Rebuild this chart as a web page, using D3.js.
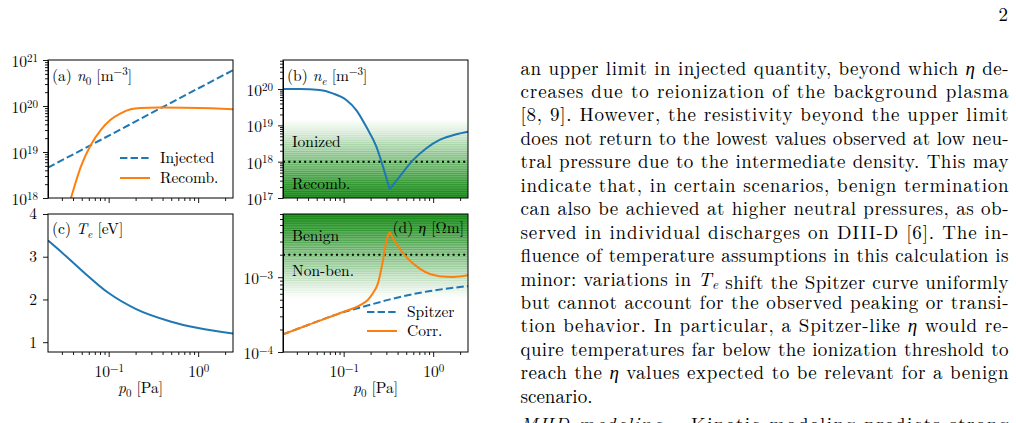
<!DOCTYPE html>
<html>
<head>
<meta charset="utf-8">
<script src="https://cdn.jsdelivr.net/npm/d3@7"></script>
<style>
  body { margin: 0; background: #fff; }
  svg { display: block; }
</style>
</head>
<body>
<svg id="fig" width="1016" height="423"></svg>
<script>
// shared x axis: neutral pressure p0 [Pa]
const pDomain = [0.021, 2.45];

// (a) neutral density n0 [m^-3]
const injectedP = [0.021, 0.064, 0.378, 2.45];
const injectedN = [4.6e18, 1.43e19, 8.9e19, 6.0e20];
const recombP = [0.035, 0.0379, 0.0489, 0.0631, 0.0815, 0.105, 0.136, 0.176, 0.227, 0.36, 0.7, 1.4, 2.45];
const recombN = [6e17, 1.0e18, 4.8e18, 1.42e19, 3.0e19, 5.0e19, 6.9e19, 8.5e19, 9.1e19, 9.3e19, 9.2e19, 8.9e19, 8.5e19];

// (b) electron density ne [m^-3]
const neP = [0.021, 0.0322, 0.054, 0.0754, 0.107, 0.139, 0.179, 0.232, 0.275, 0.327, 0.422, 0.595, 0.84, 1.18, 1.82, 2.45];
const neN = [1.0e20, 1.0e20, 9.4e19, 7.6e19, 5.0e19, 2.6e19, 9.1e18, 2.6e18, 7.3e17, 1.74e17, 3.9e17, 1.1e18, 2.35e18, 3.96e18, 5.7e18, 6.7e18];
const neThreshold = 1e18;
const ionShade = [1e17, 1.6e19];

// (c) electron temperature Te [eV]
const teP = [0.021, 0.03, 0.05, 0.1, 0.2, 0.5, 1.0, 2.45];
const teV = [3.38, 3.1, 2.68, 2.15, 1.78, 1.48, 1.33, 1.2];

// (d) resistivity eta [Ohm m]
const spitzerP = [0.021, 0.04, 0.1, 0.18, 0.33, 0.77, 2.45];
const spitzerE = [1.72e-4, 2.3e-4, 3.42e-4, 4.15e-4, 5.05e-4, 6.3e-4, 7.6e-4];
const corrP = [0.021, 0.04, 0.1, 0.151, 0.187, 0.212, 0.241, 0.275, 0.3, 0.327, 0.388, 0.5, 0.707, 1.18, 1.66, 2.45];
const corrE = [1.72e-4, 2.3e-4, 3.45e-4, 4.2e-4, 5.0e-4, 6.1e-4, 8.2e-4, 1.68e-3, 3.1e-3, 4.0e-3, 2.8e-3, 1.87e-3, 1.3e-3, 1.03e-3, 1.01e-3, 1.06e-3];
const etaThreshold = 2e-3;
const benignShade = [5e-4, 7e-3];

// body text of the page
const bodyLines = [
  'an upper limit in injected quantity, beyond which η de-',
  'creases due to reionization of the background plasma',
  '[8, 9]. However, the resistivity beyond the upper limit',
  'does not return to the lowest values observed at low neu-',
  'tral pressure due to the intermediate density. This may',
  'indicate that, in certain scenarios, benign termination',
  'can also be achieved at higher neutral pressures, as ob-',
  'served in individual discharges on DIII-D [6]. The in-',
  'fluence of temperature assumptions in this calculation is',
  'minor: variations in T_e shift the Spitzer curve uniformly',
  'but cannot account for the observed peaking or transi-',
  'tion behavior. In particular, a Spitzer-like η would re-',
  'quire temperatures far below the ionization threshold to',
  'reach the η values expected to be relevant for a benign',
  'scenario.'
];

const FONT = '"Latin Modern Roman", "Liberation Serif", serif';
const BLUE = '#1f77b4', ORANGE = '#ff7f0e', GREEN = '#008000';
const W = 185, H = 138, FS = 15.5, SFS = 11;
const svg = d3.select('#fig').style('font-family', FONT);

function logTicks(domain) {
  const major = [], minor = [];
  for (let e = Math.floor(Math.log10(domain[0])); e <= Math.ceil(Math.log10(domain[1])); e++) {
    for (let k = 1; k < 10; k++) {
      const v = k * Math.pow(10, e);
      if (v < domain[0] * 0.999 || v > domain[1] * 1.001) continue;
      (k === 1 ? major : minor).push(v);
    }
  }
  return { major, minor };
}

// "10^e" labels with a raised exponent
function sciLabel(sel) {
  sel.each(function (d) {
    const e = Math.round(Math.log10(d));
    const t = d3.select(this).text(null);
    t.append('tspan').text('10');
    t.append('tspan').attr('dy', '-0.5em').attr('font-size', SFS)
      .text(e < 0 ? '\u2212' + (-e) : String(e));
  });
}

// small rich text: parts [{t, it, sub, sup}]
function richText(g, x, y, parts, anchor) {
  const t = g.append('text').attr('x', x).attr('y', y)
    .attr('font-size', FS).attr('text-anchor', anchor || 'start');
  let shift = 0;
  parts.forEach(p => {
    const target = p.sub ? 4 : p.sup ? -6 : 0;
    const s = t.append('tspan').text(p.t).attr('dy', target - shift);
    shift = target;
    if (p.it) s.attr('font-style', 'italic');
    if (p.sub || p.sup) s.attr('font-size', SFS);
  });
  return t;
}

function panel(left, top, y, name) {
  const g = svg.append('g').attr('transform', `translate(${left},${top})`);
  const x = d3.scaleLog().domain(pDomain).range([0, W]);
  y.range([H, 0]);
  g.append('clipPath').attr('id', 'clip-' + name)
    .append('rect').attr('width', W).attr('height', H);
  const plot = g.append('g').attr('clip-path', `url(#clip-${name})`);
  return { g, x, y, plot };
}

function axes(P, xLabels, yLog) {
  const xt = logTicks(pDomain);
  const gxm = P.g.append('g').attr('transform', `translate(0,${H})`)
    .call(d3.axisBottom(P.x).tickValues(xt.minor).tickSize(3).tickSizeOuter(0).tickFormat(() => ''));
  const gx = P.g.append('g').attr('transform', `translate(0,${H})`)
    .call(d3.axisBottom(P.x).tickValues(xt.major).tickSize(5).tickPadding(9).tickSizeOuter(0).tickFormat(() => ''));
  if (xLabels) gx.selectAll('.tick text').call(sciLabel);
  let gy;
  if (yLog) {
    const yt = logTicks(P.y.domain());
    P.g.append('g').call(d3.axisLeft(P.y).tickValues(yt.minor).tickSize(3).tickSizeOuter(0).tickFormat(() => ''));
    gy = P.g.append('g').call(d3.axisLeft(P.y).tickValues(yt.major).tickSize(5).tickPadding(5).tickSizeOuter(0));
    gy.selectAll('.tick text').call(sciLabel).attr('dy', '0.42em');
  } else {
    gy = P.g.append('g').call(d3.axisLeft(P.y).tickValues([1, 2, 3, 4]).tickSize(5).tickPadding(6).tickSizeOuter(0).tickFormat(d3.format('d')));
  }
  [gxm, gx, gy].forEach(a => {
    a.attr('font-family', null).attr('font-size', FS);
    a.select('.domain').remove();
  });
  P.g.selectAll('.tick line').attr('stroke-width', 0.9);
  P.g.append('rect').attr('width', W).attr('height', H)
    .attr('fill', 'none').attr('stroke', '#000').attr('stroke-width', 1);
  if (xLabels) {
    richText(P.g, W / 2, 393 - 214, [{ t: 'p', it: true }, { t: '0', sub: true }, { t: ' [Pa]' }], 'middle');
  }
}

// line through sample points; optional split at a cusp index
function curve(P, xs, ys, color, dash, cusp) {
  const pts = xs.map((v, i) => [P.x(v), P.y(ys[i])]);
  const pieces = cusp == null ? [pts] : [pts.slice(0, cusp + 1), pts.slice(cusp)];
  const line = d3.line().curve(d3.curveMonotoneX);
  pieces.forEach(pc => {
    P.plot.append('path').attr('d', line(pc)).attr('fill', 'none')
      .attr('stroke', color).attr('stroke-width', 2)
      .attr('stroke-dasharray', dash ? '7.4,3.2' : null);
  });
}

// faded green band: dark at `from`, vanishing at `to` (log-space)
function shade(P, from, to) {
  const n = 36, a = Math.log10(from), b = Math.log10(to);
  for (let i = 0; i < n; i++) {
    const t0 = i / n, t1 = (i + 1) / n;
    const y0 = P.y(Math.pow(10, a + (b - a) * t0)), y1 = P.y(Math.pow(10, a + (b - a) * t1));
    const op = 0.85 * Math.pow(1 - (t0 + t1) / 2, 1.2);
    P.plot.append('rect').attr('x', 0).attr('width', W)
      .attr('y', Math.min(y0, y1) - 0.3).attr('height', Math.abs(y1 - y0) + 0.6)
      .attr('fill', GREEN).attr('fill-opacity', op);
  }
}

function hline(P, v) {
  P.plot.append('line').attr('x1', 0).attr('x2', W).attr('y1', P.y(v)).attr('y2', P.y(v))
    .attr('stroke', '#000').attr('stroke-width', 2).attr('stroke-dasharray', '2,3.3');
}

function legendRow(P, x, y, color, dash, label) {
  P.g.append('line').attr('x1', x).attr('x2', x + 30).attr('y1', y).attr('y2', y)
    .attr('stroke', color).attr('stroke-width', 2).attr('stroke-dasharray', dash ? '7.4,3.2' : null);
  P.g.append('text').attr('x', x + 40).attr('y', y + 5).attr('font-size', FS).text(label);
}

// (a)
const A = panel(48, 60, d3.scaleLog().domain([1e18, 1e21]), 'a');
curve(A, injectedP, injectedN, BLUE, true);
curve(A, recombP, recombN, ORANGE, false);
axes(A, false, true);
richText(A.g, 4, 21, [{ t: '(a) ' }, { t: 'n', it: true }, { t: '0', sub: true }, { t: ' [m' }, { t: '\u22123', sup: true }, { t: ']' }]);
legendRow(A, 72, 98, BLUE, true, 'Injected');
legendRow(A, 72, 118, ORANGE, false, 'Recomb.');

// (b)
const B = panel(283, 60, d3.scaleLog().domain([1e17, 6.3e20]), 'b');
shade(B, ionShade[0], ionShade[1]);
hline(B, neThreshold);
curve(B, neP, neN, BLUE, false, neN.indexOf(d3.min(neN)));
axes(B, false, true);
richText(B.g, 4, 21, [{ t: '(b) ' }, { t: 'n', it: true }, { t: 'e', sub: true, it: true }, { t: ' [m' }, { t: '\u22123', sup: true }, { t: ']' }]);
B.g.append('text').attr('x', 9).attr('y', 87).attr('font-size', FS).text('Ionized');
B.g.append('text').attr('x', 9).attr('y', 128.5).attr('font-size', FS).text('Recomb.');

// (c)
const C = panel(48, 214, d3.scaleLinear().domain([0.77, 4]), 'c');
curve(C, teP, teV, BLUE, false);
axes(C, true, false);
richText(C.g, 4, 19.5, [{ t: '(c) ' }, { t: 'T', it: true }, { t: 'e', sub: true, it: true }, { t: ' [eV]' }]);

// (d)
const D = panel(283, 214, d3.scaleLog().domain([1e-4, 7e-3]), 'd');
shade(D, benignShade[1], benignShade[0]);
hline(D, etaThreshold);
curve(D, spitzerP, spitzerE, BLUE, true);
curve(D, corrP, corrE, ORANGE, false, corrE.indexOf(d3.max(corrE)));
axes(D, true, true);
richText(D.g, W - 4, 18.5, [{ t: '(d) ' }, { t: 'η', it: true }, { t: ' [Ωm]' }], 'end');
D.g.append('text').attr('x', 9).attr('y', 26.5).attr('font-size', FS).text('Benign');
D.g.append('text').attr('x', 9).attr('y', 61.5).attr('font-size', FS).text('Non-ben.');
legendRow(D, 84, 98, BLUE, true, 'Spitzer');
legendRow(D, 84, 117, ORANGE, false, 'Corr.');

// page text
const textLeft = 520.5, textWidth = 488, base = 74.5, lead = 23.45, BFS = 19;
function bodyLine(str, y, justify) {
  const t = svg.append('text').attr('x', textLeft).attr('y', y).attr('font-size', BFS);
  str.split(/(η|T_e)/).forEach(seg => {
    if (seg === 'η') t.append('tspan').attr('font-style', 'italic').text('η');
    else if (seg === 'T_e') {
      t.append('tspan').attr('font-style', 'italic').text('T');
      t.append('tspan').attr('font-style', 'italic').attr('font-size', 13.5).attr('dy', 3).text('e');
      t.append('tspan').attr('dy', -3).text('');
    } else if (seg) t.append('tspan').text(seg);
  });
  if (justify) t.attr('textLength', textWidth).attr('lengthAdjust', 'spacing');
  return t;
}
bodyLines.forEach((s, i) => bodyLine(s, base + i * lead, i < bodyLines.length - 1));
const last = svg.append('text').attr('x', textLeft).attr('y', base + bodyLines.length * lead + 5)
  .attr('font-size', BFS).attr('textLength', textWidth).attr('lengthAdjust', 'spacing');
last.append('tspan').attr('font-style', 'italic').text('MHD modeling.');
last.append('tspan').text('\u2014Kinetic modeling predicts strong');

svg.append('text').attr('x', 1008).attr('y', 21).attr('font-size', BFS).attr('text-anchor', 'end').text('2');

svg.selectAll('text').style('font-family', FONT).attr('fill', '#000');
</script>
</body>
</html>
